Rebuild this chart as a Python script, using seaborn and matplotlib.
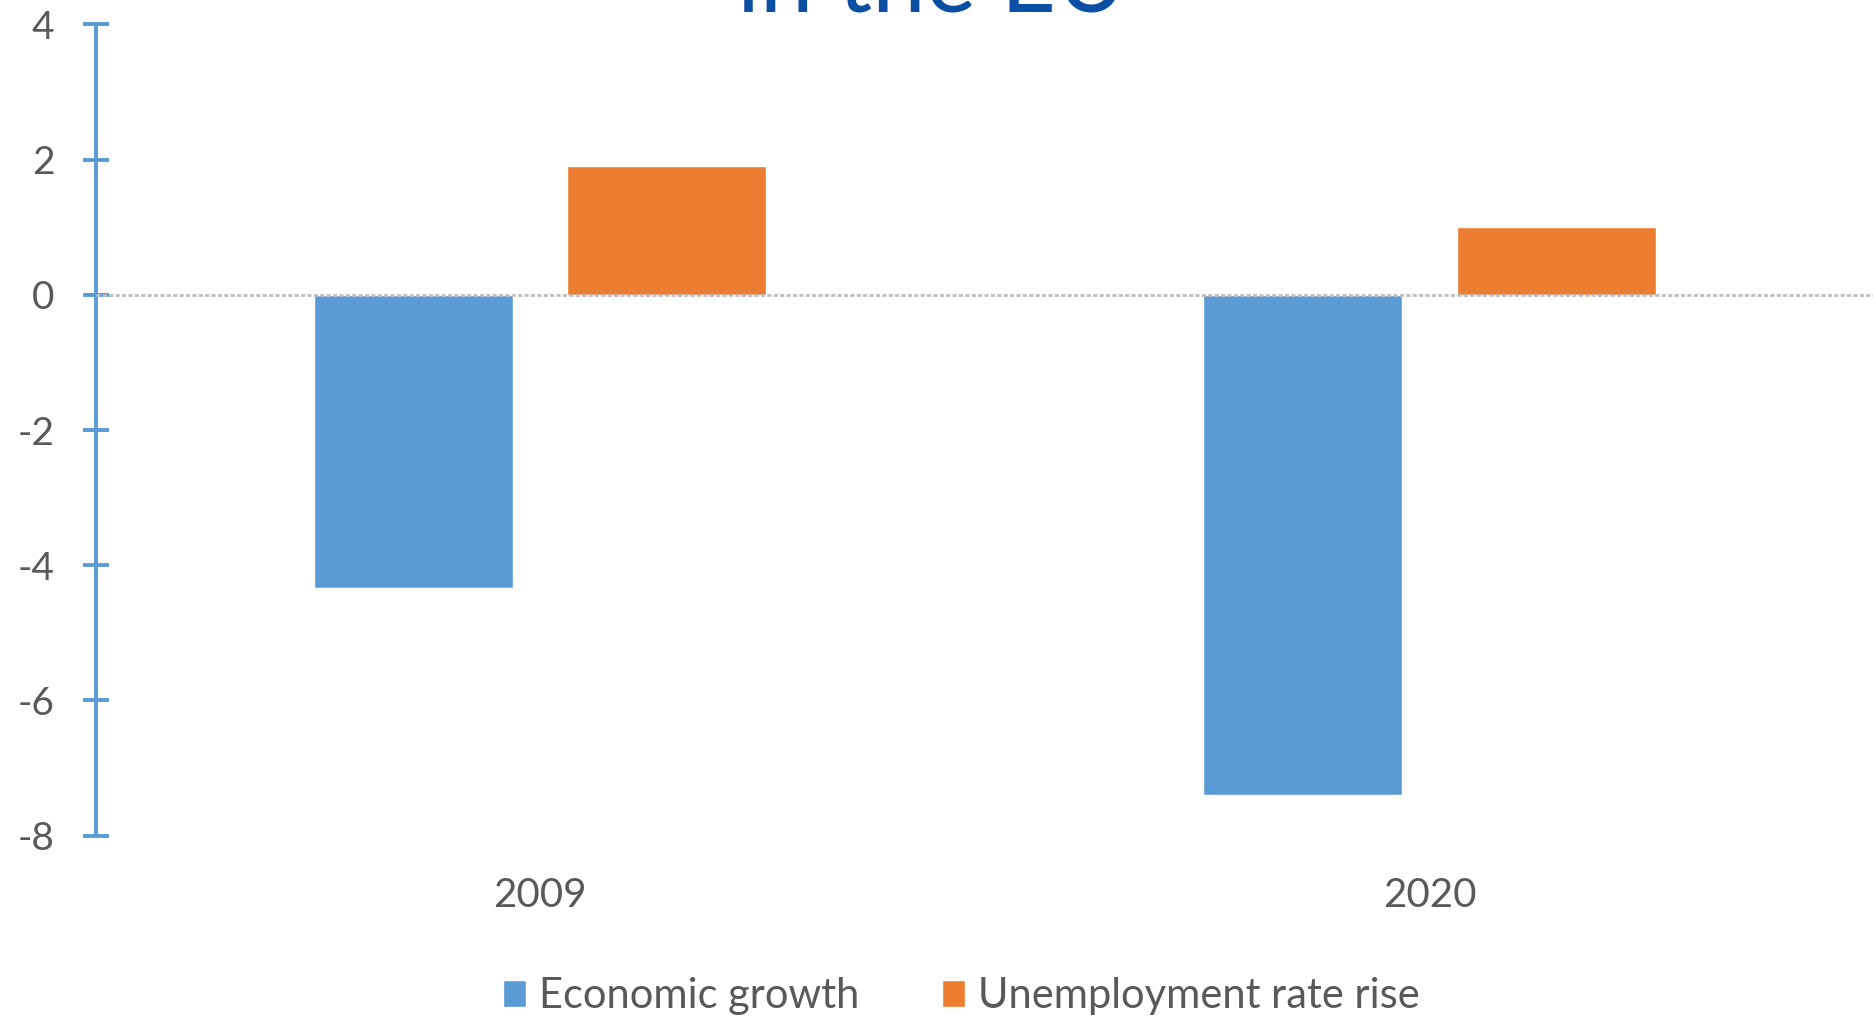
import matplotlib
matplotlib.use("Agg")
import matplotlib.pyplot as plt
import seaborn as sns
import pandas as pd

years = ["2009", "2020"]
series_names = ["Economic growth", "Unemployment rate rise"]
economic_growth = [-4.33, -7.4]
unemployment_rise = [1.9, 1.0]
y_ticks = [-8, -6, -4, -2, 0, 2, 4]
title_text = "in the EU"

df = pd.DataFrame({
    "year": years * 2,
    "series": [series_names[0]] * len(years) + [series_names[1]] * len(years),
    "value": economic_growth + unemployment_rise,
})

sns.set_theme(style="white")
plt.rcParams["font.family"] = ["Lato", "DejaVu Sans"]

fig = plt.figure(figsize=(18.74, 10.19), dpi=100)
ax = fig.add_axes([0.051, 0.18, 0.949, 0.796])

sns.barplot(data=df, x="year", y="value", hue="series", order=years,
            hue_order=series_names, palette=["#5B9BD5", "#ED7D31"],
            width=0.57, gap=0.214, ax=ax, legend=True, saturation=1)

ax.set_ylim(-8, 4)
ax.set_xlim(-0.5, 1.5)
ax.set_yticks(y_ticks)
ax.set_yticklabels([str(t) for t in y_ticks])
ax.set_xlabel("")
ax.set_ylabel("")

for s in ["top", "right", "bottom"]:
    ax.spines[s].set_visible(False)
ax.spines["left"].set_color("#5B9BD5")
ax.spines["left"].set_linewidth(2.8)

ax.tick_params(axis="y", left=True, direction="inout", length=19, width=2.8,
               color="#5B9BD5", labelsize=28, labelcolor="#595959", pad=20)
ax.tick_params(axis="x", bottom=False, length=0, labelsize=29,
               labelcolor="#595959", pad=30)

ax.axhline(0, color="#BFBFBF", lw=2.0, ls=(0, (1.5, 0.8)), zorder=5)

handles, labels = ax.get_legend_handles_labels()
ax.get_legend().remove()
fig.legend(handles, labels, loc="center", bbox_to_anchor=(0.513, 1 - 996 / 1019),
           ncol=2, frameon=False, fontsize=30, handlelength=0.55, handleheight=0.6,
           handletextpad=0.3, columnspacing=2.0, labelcolor="#595959")

fig.text(0.497, 1 - 12 / 1019, title_text, ha="center", va="baseline",
         fontsize=69, color="#0A4FA3")

fig.savefig("out.png", dpi=100)
